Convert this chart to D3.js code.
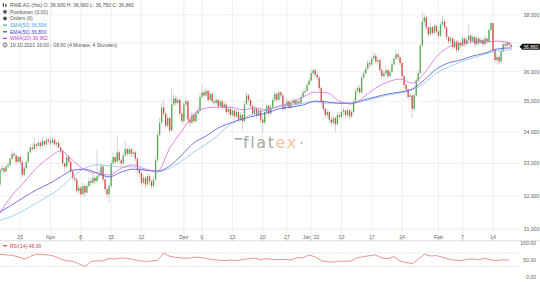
<!DOCTYPE html>
<html>
<head>
<meta charset="utf-8">
<script src="https://cdn.jsdelivr.net/npm/d3@7"></script>
<style>
body { margin: 0; background: #fff; }
svg { display: block; font-family: "Liberation Sans", Arial, sans-serif; }
</style>
</head>
<body>
<div id="chart"></div>
<script>
var W = 540,
H = 282,
plotRight = 520;

// 4h candles, 3 per trading day, 19.10.2021 16:00 .. 17.02.2022 08:00
var firstOpen = 32.35;
var closes = [
32.80,
32.85,32.75,32.90, 32.95,33.15,33.30, 33.25,33.05,33.20,
33.05,32.65,32.85, 33.05,33.35,33.50, 33.45,33.60,33.55, 33.65,33.55,33.70, 33.60,33.75,33.70,
33.65,33.75,33.60, 33.65,33.50,33.40, 33.00,32.90,33.20, 33.05,32.75,32.55, 32.50,32.15,32.25,
32.05,32.30,32.10, 32.30,32.45,32.40, 32.55,32.45,32.60, 32.65,32.90,32.50, 32.20,32.05,32.30,
33.00,33.20,33.05, 33.35,33.10,33.00, 33.25,33.45,33.30, 33.45,33.30,33.35, 33.15,32.80,32.70,
32.40,32.55,32.35, 32.60,32.45,32.30, 32.50,33.10,33.90, 34.30,34.80,34.60, 34.20,34.45,34.05,
34.90,35.10,34.95, 35.05,34.60,34.35, 34.90,35.00,34.40, 34.30,34.55,34.35, 34.60,34.70,35.15,
35.30,35.20,35.35, 35.05,35.25,35.00, 34.95,35.05,34.85, 35.00,34.80,34.90, 34.65,34.75,34.55,
34.70,34.50,34.65, 34.40,34.55,34.35, 34.90,35.20,35.05, 34.85,34.60,34.75, 34.55,34.70,34.40,
34.30,34.65,34.85, 34.60,34.80,35.05, 35.25,35.05,35.30, 35.20,34.75,34.85,
35.00,34.80,34.95, 35.05,34.90,35.00, 34.95,35.15,35.30, 35.35,35.55,35.70,
35.95,36.05,35.90, 35.80,35.45,35.00, 34.75,34.55,34.65, 34.40,34.30,34.45, 34.25,34.55,34.50,
34.65,34.70,34.55, 34.70,34.50,34.65, 35.00,35.35,35.45, 35.30,35.80,35.95, 36.10,36.30,36.25,
36.45,36.55,36.35, 36.40,36.05,35.85, 35.95,36.05,35.85, 36.00,36.25,36.45, 36.60,36.50,36.30,
35.85,35.55,35.40, 35.15,35.20,34.75, 35.20,35.70,35.95, 36.90,37.75,37.90, 37.55,37.30,37.55,
37.35,37.60,37.40, 37.25,37.65,37.75, 37.55,37.20,37.05, 37.15,36.85,37.05, 36.75,37.00,36.90,
37.15,36.95,37.10, 37.25,37.05,37.20, 36.95,37.15,37.00, 37.10,36.95,37.15, 37.05,37.45,37.70,
36.75,36.40,36.50, 36.35,36.70,36.95, 36.90,37.00,36.93,
36.86
];
var highs = [
32.85,
32.95,32.90,32.95, 33.05,33.20,33.40, 33.35,33.30,33.25,
33.25,33.10,32.95, 33.10,33.40,33.60, 33.65,33.80,33.65, 33.75,33.70,33.85, 33.75,33.85,33.80,
33.80,33.85,33.80, 33.70,33.70,33.55, 33.45,33.05,33.30, 33.25,33.10,32.80, 32.65,32.55,32.35,
32.30,32.40,32.35, 32.40,32.55,32.55, 32.70,32.60,33.45, 32.80,33.00,32.95, 32.55,32.25,32.40,
33.10,33.35,33.25, 33.90,33.40,33.15, 33.35,33.75,33.50, 33.55,33.50,33.45, 33.40,33.20,32.85,
32.75,32.65,32.60, 32.70,32.65,32.50, 32.60,33.20,34.00, 34.45,34.95,35.06, 34.65,34.55,34.50,
35.45,35.25,35.20, 35.15,35.10,34.65, 35.00,35.15,35.05, 34.45,34.65,34.60, 34.70,34.85,35.25,
35.56,35.40,35.45, 35.40,35.35,35.30, 35.10,35.15,35.10, 35.10,35.05,35.00, 34.95,34.85,34.80,
34.80,34.75,34.75, 34.70,34.65,34.60, 35.00,35.30,35.25, 35.10,34.90,34.85, 34.80,34.80,34.75,
34.45,34.75,34.95, 34.90,34.90,35.15, 35.35,35.30,35.40, 35.35,35.25,34.95,
35.10,35.05,35.05, 35.10,35.10,35.10, 35.05,35.25,35.40, 35.45,35.65,35.80,
36.07,36.10,36.10, 36.00,35.85,35.50, 35.05,34.80,34.75, 34.70,34.50,34.55, 34.50,34.65,34.65,
34.75,34.80,34.75, 34.80,34.75,34.75, 35.10,35.45,35.55, 35.55,35.90,36.05, 36.20,36.40,36.40,
36.55,36.68,36.60, 36.50,36.45,36.10, 36.05,36.20,36.10, 36.10,36.35,36.55, 36.75,36.65,36.55,
36.35,35.90,35.60, 35.45,35.30,35.25, 35.30,35.80,36.05, 37.00,38.10,38.00, 37.95,37.60,37.70,
37.60,37.70,37.65, 37.45,37.75,37.95, 37.80,37.60,37.25, 37.25,37.20,37.15, 37.10,37.10,37.05,
37.25,37.20,37.20, 37.65,37.30,37.30, 37.25,37.25,37.20, 37.20,37.15,37.25, 37.20,37.55,37.75,
37.70,36.80,36.60, 36.55,36.80,37.05, 37.05,37.10,37.05,
36.96
];
var lows = [
32.30,
32.70,32.65,32.70, 32.85,32.90,33.10, 33.15,32.95,33.00,
32.95,32.55,32.60, 32.80,33.00,33.30, 33.40,33.40,33.45, 33.50,33.45,33.50, 33.50,33.55,33.60,
33.55,33.60,33.55, 33.50,33.45,33.30, 32.90,32.75,32.85, 32.95,32.65,32.45, 32.40,32.05,32.05,
31.95,32.00,31.95, 32.05,32.25,32.30, 32.35,32.35,32.40, 32.50,32.60,32.40, 32.10,31.95,31.80,
32.25,32.95,32.95, 33.00,33.00,32.90, 32.95,33.20,33.20, 33.25,33.20,33.20, 33.05,32.70,32.55,
32.30,32.35,32.25, 32.30,32.35,32.20, 32.25,32.45,33.05, 33.85,34.25,34.50, 34.10,34.15,33.95,
34.00,34.85,34.85, 34.90,34.50,34.25, 34.30,34.85,34.30, 34.15,34.25,34.25, 34.30,34.55,34.65,
35.10,35.10,35.15, 34.95,35.00,34.90, 34.85,34.90,34.75, 34.80,34.70,34.75, 34.55,34.60,34.45,
34.50,34.40,34.45, 34.30,34.35,34.08, 34.30,34.85,34.95, 34.75,34.50,34.55, 34.45,34.50,34.30,
33.99,34.25,34.60, 34.50,34.55,34.75, 35.00,34.95,35.00, 35.10,34.65,34.70,
34.80,34.75,34.75, 34.90,34.85,34.85, 34.85,34.90,35.10, 35.25,35.30,35.50,
35.65,35.85,35.80, 35.70,35.35,34.90, 34.65,34.45,34.45, 34.30,34.20,34.25, 34.00,34.20,34.40,
34.45,34.55,34.45, 34.50,34.40,34.45, 34.60,34.95,35.30, 35.20,35.25,35.75, 35.90,36.05,36.15,
36.20,36.40,36.25, 36.25,35.95,35.75, 35.80,35.90,35.75, 35.80,35.95,36.20, 36.40,36.40,36.20,
35.75,35.45,35.30, 35.05,35.05,34.45, 34.70,35.15,35.65, 35.90,36.85,37.60, 37.45,37.20,37.25,
37.25,37.30,37.30, 37.15,37.20,37.60, 37.45,37.10,36.95, 36.95,36.75,36.80, 36.65,36.70,36.80,
36.85,36.85,36.90, 37.05,36.95,37.00, 36.85,36.90,36.90, 36.95,36.85,36.90, 36.95,37.00,37.40,
36.65,36.30,36.24, 36.25,36.30,36.65, 36.80,36.85,36.85,
36.75
];

// moving averages, read every 6 bars plus the last bar
var sma50 = [31.27,31.39,31.57,31.78,32.00,32.24,32.61,32.85,32.95,32.92,
	32.89,32.89,32.79,32.73,32.85,33.08,33.36,33.61,33.90,34.24,
	34.45,34.58,34.72,34.81,34.88,34.94,34.98,34.94,34.94,34.94,
	35.01,35.11,35.21,35.28,35.38,35.61,35.95,36.16,36.33,36.47,
	36.61,36.71,36.75,36.75];
var ema50 = [31.51,31.73,31.96,32.18,32.36,32.58,32.79,32.82,32.70,32.58,
	32.73,32.82,32.79,32.76,32.92,33.27,33.65,33.87,34.13,34.29,
	34.42,34.52,34.62,34.75,34.81,34.88,35.01,34.98,34.94,34.94,
	35.05,35.15,35.25,35.31,35.41,35.72,36.09,36.30,36.40,36.54,
	36.64,36.78,36.82,36.82];
var wma20 = [31.48,32.02,32.42,32.85,33.17,33.39,33.10,32.79,32.70,32.64,
	32.85,32.95,32.82,32.76,33.48,34.03,34.58,34.78,34.81,34.81,
	34.72,34.78,34.72,34.85,34.94,35.15,35.31,35.28,35.01,34.91,
	35.15,35.45,35.65,35.75,35.61,35.95,36.51,36.85,36.99,37.03,
	37.03,37.06,36.99,36.96];

// RSI(14), one reading per trading day
var rsi14 = [66,64,63,58,52,60,66,65,64,60, 52,47,45,38,30,44,47,46,54,52,
	55,54,50,47,45,46,48,70,60,57, 55,54,57,57,54,50,49,47,49,47,
	50,53,55,50,53,51,50,51,49,56, 56,64,58,47,44,43,46,45,47,56,
	59,62,64,55,53,59,46,42,38,52, 66,61,62,57,52,49,47,51,52,50,
	54,49,47,50,48.39];

var tickLabels = ['25','Nov','8','15','22','Dez','6','13','20','27','Jan \u201922','10','17','24','Feb','7','14'];
var tickBars = [10,25,40,55,70,91,100,115,130,142,154,169,184,199,217,229,244];
var priceTicks = [31,32,33,34,35,36,37,38];
var priceLabelTicks = [31,32,33,34,35,36,38];
var rsiTicks = [0,50,100];
var rsiBands = [30,70];
var lastPrice = 36.86;

var legendRows = [
	{icon: 'bars', color: '#555', text: 'RWE AG (Hst)  O: 36,930  H: 36,960  L: 36,750  C: 36,860'},
	{icon: 'dot', color: '#555', text: 'Positionen (0,00)'},
	{icon: 'dot', color: '#555', text: 'Orders (0)'},
	{icon: 'dash', color: '#4ba3d6', text: 'SMA(50)  36,596'},
	{icon: 'dash', color: '#4040d0', text: 'EMA(50)  36,800'},
	{icon: 'dash', color: '#c63cc6', text: 'WMA(20)  36,962'},
	{icon: 'clock', color: '#555', text: '19.10.2021 16:00 - 08:00   (4 Monate, 4 Stunden)'}
];

var fmt2 = function(v, d) { return v.toFixed(d).replace('.', ','); };

var svg = d3.select('#chart').append('svg')
	.attr('width', W)
	.attr('height', H)
	.attr('viewBox', '0 0 ' + W + ' ' + H);

var x = d3.scaleLinear().domain([0, 244]).range([0, 493]);
var y = d3.scaleLog().domain([31, 38]).range([229.3, 14.7]);
var yr = d3.scaleLinear().domain([0, 100]).range([276.7, 242.7]);

// grid
svg.append('g').selectAll('line')
	.data(priceTicks).enter().append('line')
	.attr('x1', 0).attr('x2', plotRight)
	.attr('y1', function(d) { return y(d); })
	.attr('y2', function(d) { return y(d); })
	.attr('stroke', '#ebebeb').attr('stroke-width', 0.8);

svg.append('g').selectAll('line')
	.data(tickBars).enter().append('line')
	.attr('x1', function(d) { return x(d); })
	.attr('x2', function(d) { return x(d); })
	.attr('y1', 0).attr('y2', 233)
	.attr('stroke', '#ebebeb').attr('stroke-width', 0.8);

// watermark
var wm = svg.append('g').attr('font-family', '"DejaVu Sans", sans-serif');
wm.append('rect').attr('x', 235).attr('y', 138).attr('width', 7).attr('height', 1.7).attr('fill', '#a8a8a8');
var wt = wm.append('text').attr('x', 243).attr('y', 147.5).attr('font-size', 16).attr('letter-spacing', 1.6);
wt.append('tspan').attr('fill', '#a8a8a8').text('flat');
wt.append('tspan').attr('fill', '#f6c2a2').text('ex');
wm.append('circle').attr('cx', 301.5).attr('cy', 143).attr('r', 0.9).attr('fill', '#a8a8a8');

// candles
var bars = closes.map(function(c, i) {
	return {i: i, o: i ? closes[i - 1] : firstOpen, h: highs[i], l: lows[i], c: c};
});

var cg = svg.append('g');
cg.selectAll('.wick')
	.data(bars).enter().append('line')
	.attr('x1', function(d) { return x(d.i); })
	.attr('x2', function(d) { return x(d.i); })
	.attr('y1', function(d) { return y(d.h); })
	.attr('y2', function(d) { return y(d.l); })
	.attr('stroke', '#c0c0c0').attr('stroke-width', 0.7);
cg.selectAll('.body')
	.data(bars).enter().append('rect')
	.attr('x', function(d) { return x(d.i) - 0.65; })
	.attr('width', 1.3)
	.attr('y', function(d) { return y(Math.max(d.o, d.c)); })
	.attr('height', function(d) { return Math.max(0.5, Math.abs(y(d.o) - y(d.c))); })
	.attr('fill', function(d) { return d.c >= d.o ? '#52ad52' : '#dc4a44'; });

// averages
var maBars = d3.range(0, 253, 6).concat([253]);
var maLine = d3.line()
	.x(function(d, i) { return x(maBars[i]); })
	.y(function(d) { return y(d); })
	.curve(d3.curveMonotoneX);

[[sma50, '#86c5e8'], [ema50, '#5252dc'], [wma20, '#d768d7']].forEach(function(s) {
	svg.append('path')
		.attr('d', maLine(s[0]))
		.attr('fill', 'none')
		.attr('stroke', s[1])
		.attr('stroke-width', 0.8);
});

// price axis
svg.append('g').selectAll('text')
	.data(priceLabelTicks).enter().append('text')
	.attr('x', 523.5)
	.attr('y', function(d) { return y(d); })
	.attr('dy', '0.35em')
	.attr('font-size', 5.2)
	.attr('fill', '#666')
	.text(function(d) { return fmt2(d, 3); });

// price tag
var ty = y(lastPrice);
svg.append('path')
	.attr('d', 'M519.5,' + ty + ' L522.5,' + (ty - 3) + ' L539,' + (ty - 3) + ' Q540,' + (ty - 3) + ' 540,' + (ty - 2) +
		' L540,' + (ty + 2) + ' Q540,' + (ty + 3) + ' 539,' + (ty + 3) + ' L522.5,' + (ty + 3) + ' Z')
	.attr('fill', '#111');
svg.append('text')
	.attr('x', 531).attr('y', ty).attr('dy', '0.35em')
	.attr('text-anchor', 'middle')
	.attr('font-size', 5)
	.attr('fill', '#fff')
	.text(fmt2(lastPrice, 3));

// time axis
svg.append('g').selectAll('text')
	.data(tickBars).enter().append('text')
	.attr('x', function(d) { return x(d); })
	.attr('y', 237)
	.attr('dy', '0.35em')
	.attr('text-anchor', 'middle')
	.attr('font-size', 5.2)
	.attr('fill', '#666')
	.text(function(d, i) { return tickLabels[i]; });
svg.append('g').selectAll('line')
	.data(tickBars).enter().append('line')
	.attr('x1', function(d) { return x(d); })
	.attr('x2', function(d) { return x(d); })
	.attr('y1', 239).attr('y2', 241)
	.attr('stroke', '#888').attr('stroke-width', 0.6);
svg.append('line')
	.attr('x1', 0).attr('x2', W).attr('y1', 240.8).attr('y2', 240.8)
	.attr('stroke', '#d0d0d0').attr('stroke-width', 0.7);

// RSI pane
svg.append('g').selectAll('line')
	.data(rsiBands).enter().append('line')
	.attr('x1', 0).attr('x2', plotRight)
	.attr('y1', function(d) { return yr(d); })
	.attr('y2', function(d) { return yr(d); })
	.attr('stroke', '#c4c4c4').attr('stroke-width', 0.6)
	.attr('stroke-dasharray', '1.5,1.5');

var rsiLine = d3.line()
	.x(function(d, i) { return x(i * 3); })
	.y(function(d) { return yr(d); });
svg.append('path')
	.attr('d', rsiLine(rsi14))
	.attr('fill', 'none')
	.attr('stroke', '#d66a6a')
	.attr('stroke-width', 0.7);

svg.append('g').selectAll('text')
	.data(rsiTicks).enter().append('text')
	.attr('x', 536)
	.attr('y', function(d) { return yr(d); })
	.attr('dy', '0.35em')
	.attr('text-anchor', 'end')
	.attr('font-size', 5.2)
	.attr('fill', '#666')
	.text(function(d) { return fmt2(d, 2); });

svg.append('rect').attr('x', 3).attr('y', 245.2).attr('width', 4).attr('height', 1.2).attr('fill', '#d04848');
svg.append('text')
	.attr('x', 10).attr('y', 246).attr('dy', '0.35em')
	.attr('font-size', 5)
	.attr('fill', '#d04848')
	.text('RSI(14)  ' + fmt2(rsi14[rsi14.length - 1], 2));

// legend
var lg = svg.append('g').selectAll('g')
	.data(legendRows).enter().append('g')
	.attr('transform', function(d, i) { return 'translate(0,' + (5.2 + i * 6.65) + ')'; });

lg.append('text')
	.attr('x', 10)
	.attr('dy', '0.35em')
	.attr('font-size', 5)
	.attr('fill', function(d) { return d.color; })
	.text(function(d) { return d.text; });

lg.each(function(d) {
	var g = d3.select(this);
	if (d.icon === 'dash') {
		g.append('rect').attr('x', 3).attr('y', -0.6).attr('width', 4).attr('height', 1.2).attr('fill', d.color);
	} else if (d.icon === 'dot') {
		g.append('circle').attr('cx', 5).attr('cy', 0).attr('r', 1.9).attr('fill', '#555');
	} else if (d.icon === 'clock') {
		g.append('circle').attr('cx', 5).attr('cy', 0).attr('r', 2).attr('fill', 'none').attr('stroke', '#444').attr('stroke-width', 0.7);
		g.append('path').attr('d', 'M5,-1.2 L5,0 L6,0.6').attr('fill', 'none').attr('stroke', '#444').attr('stroke-width', 0.5);
	} else {
		g.append('rect').attr('x', 2.8).attr('y', -2).attr('width', 1.2).attr('height', 3.5).attr('fill', '#444');
		g.append('rect').attr('x', 5.2).attr('y', -1.2).attr('width', 1.2).attr('height', 3).attr('fill', '#444');
	}
});
</script>
</body>
</html>
